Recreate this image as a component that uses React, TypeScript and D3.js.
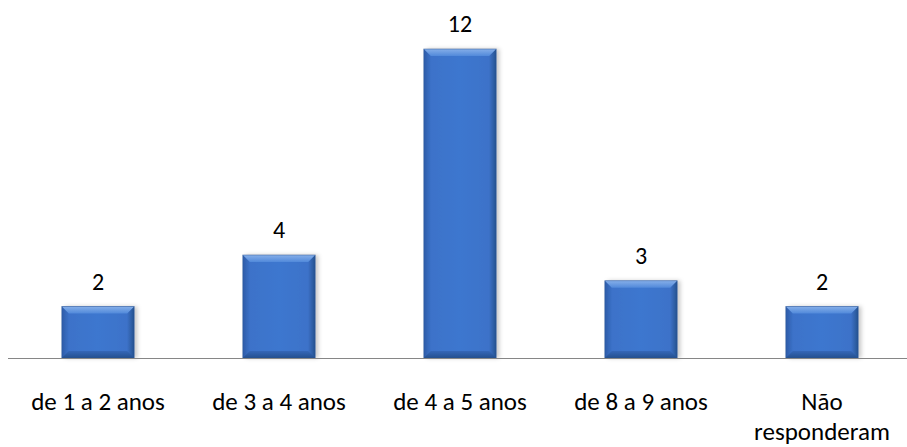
import React, { useEffect, useRef } from 'react';
import * as d3 from 'd3';

const categories = ['de 1 a 2 anos', 'de 3 a 4 anos', 'de 4 a 5 anos', 'de 8 a 9 anos', 'Não\nresponderam'];
const values = [2, 4, 12, 3, 2];

export default function App() {
  const svgRef = useRef<SVGSVGElement>(null);

  useEffect(() => {
    if (!svgRef.current) return;
    const svg = d3.select(svgRef.current);
    svg.selectAll('*').remove();

    const width = 907;
    const height = 447;
    const baseY = 358;
    const font = 'Carlito, "Open Sans", "Noto Sans", sans-serif';

    const x = d3.scaleBand<string>()
      .domain(categories)
      .range([7.5, 912.5])
      .padding(0);

    const y = d3.scaleLinear()
      .domain([0, 12])
      .range([baseY, 49]);

    const barW = x.bandwidth() * 0.4;

    const defs = svg.append('defs');
    const hg = defs.append('linearGradient').attr('id', 'barH').attr('x1', '0').attr('x2', '1').attr('y1', '0').attr('y2', '0');
    hg.append('stop').attr('offset', '0').attr('stop-color', '#2d5ca8');
    hg.append('stop').attr('offset', '0.1').attr('stop-color', '#3c72c9');
    hg.append('stop').attr('offset', '0.5').attr('stop-color', '#3e77cf');
    hg.append('stop').attr('offset', '0.9').attr('stop-color', '#3c72c9');
    hg.append('stop').attr('offset', '1').attr('stop-color', '#26528f');

    const tg = defs.append('linearGradient').attr('id', 'barTop').attr('x1', '0').attr('x2', '0').attr('y1', '0').attr('y2', '1');
    tg.append('stop').attr('offset', '0').attr('stop-color', '#86afe9');
    tg.append('stop').attr('offset', '1').attr('stop-color', '#5189da');

    const bg = defs.append('linearGradient').attr('id', 'barBot').attr('x1', '0').attr('x2', '0').attr('y1', '0').attr('y2', '1');
    bg.append('stop').attr('offset', '0').attr('stop-color', '#3567b8');
    bg.append('stop').attr('offset', '1').attr('stop-color', '#24508f');

    const filter = defs.append('filter').attr('id', 'shadow').attr('x', '-20%').attr('y', '-20%').attr('width', '150%').attr('height', '150%');
    filter.append('feDropShadow').attr('dx', 3).attr('dy', 0).attr('stdDeviation', 2).attr('flood-color', '#000').attr('flood-opacity', 0.22);

    svg.append('rect').attr('width', width).attr('height', height).attr('fill', '#fff');

    const bars = svg.append('g')
      .selectAll('g')
      .data(values)
      .enter()
      .append('g');

    bars.each((d, i, nodes) => {
      const g = d3.select(nodes[i]);
      const cx = (x(categories[i]) as number) + x.bandwidth() / 2;
      const x0 = cx - barW / 2;
      const x1 = cx + barW / 2;
      const top = y(d);
      const bev = 7;
      g.append('rect')
        .attr('x', x0).attr('y', top)
        .attr('width', barW).attr('height', baseY - top)
        .attr('fill', 'url(#barH)')
        .attr('filter', 'url(#shadow)');
      // top bevel
      g.append('path')
        .attr('d', `M${x0},${top} L${x1},${top} L${x1 - bev},${top + bev} L${x0 + bev},${top + bev} Z`)
        .attr('fill', 'url(#barTop)');
      // bottom bevel
      g.append('path')
        .attr('d', `M${x0},${baseY} L${x1},${baseY} L${x1 - bev},${baseY - bev} L${x0 + bev},${baseY - bev} Z`)
        .attr('fill', 'url(#barBot)');
      g.append('rect')
        .attr('x', x0).attr('y', top)
        .attr('width', barW).attr('height', baseY - top)
        .attr('fill', 'none')
        .attr('stroke', '#2a5495')
        .attr('stroke-opacity', 0.6)
        .attr('stroke-width', 0.8);

      g.append('text')
        .attr('x', cx)
        .attr('y', top - 17)
        .attr('text-anchor', 'middle')
        .attr('font-family', font)
        .attr('font-size', 24)
        .attr('fill', '#000')
        .text(d);
    });

    // axis line
    svg.append('line')
      .attr('x1', 8).attr('x2', 907)
      .attr('y1', baseY + 0.5).attr('y2', baseY + 0.5)
      .attr('stroke', '#868686')
      .attr('stroke-width', 1.2);

    // category labels
    svg.append('g')
      .selectAll('text')
      .data(categories)
      .enter()
      .append('text')
      .attr('x', d => (x(d) as number) + x.bandwidth() / 2)
      .attr('y', 410)
      .attr('text-anchor', 'middle')
      .attr('font-family', font)
      .attr('font-size', 25)
      .attr('fill', '#000')
      .each((d, i, nodes) => {
        const t = d3.select(nodes[i]);
        const cx = (x(d) as number) + x.bandwidth() / 2;
        d.split('\n').forEach((line, k) => {
          t.append('tspan').attr('x', cx).attr('dy', k === 0 ? 0 : 30).text(line);
        });
      });
  }, []);

  return (
    <svg ref={svgRef} width={907} height={447} style={{ display: 'block', position: 'absolute', left: 0, top: 0 }}></svg>
  );
}
